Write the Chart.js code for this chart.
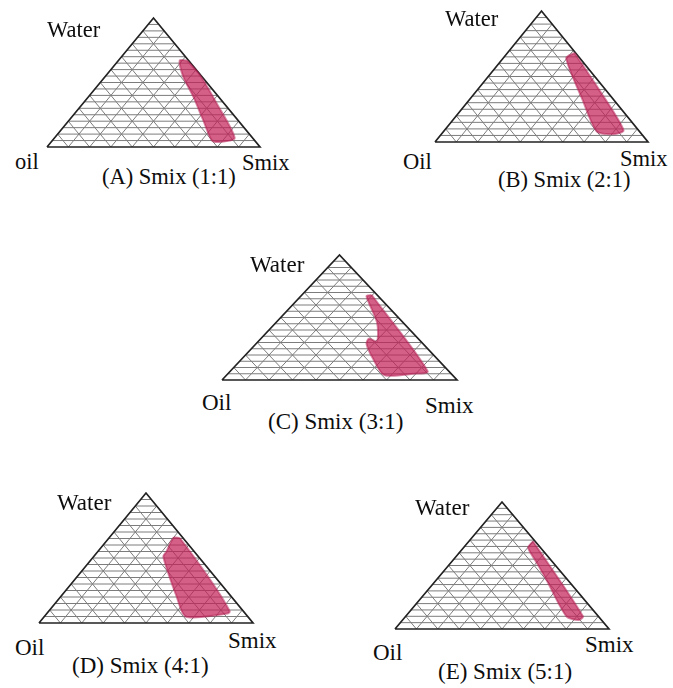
<!DOCTYPE html>
<html>
<head>
<meta charset="utf-8">
<script src="https://cdn.jsdelivr.net/npm/chart.js@4"></script>
<style>
  body { margin: 0; background: #fff; width: 673px; height: 688px; position: relative; overflow: hidden;
         font-family: "Liberation Serif", "Times New Roman", serif; color: #0d0d0d; }
  canvas { position: absolute; }
  .lbl { position: absolute; white-space: nowrap; line-height: 1; }
</style>
</head>
<body>
<script>
// labels
const captions = ['(A) Smix (1:1)', '(B) Smix (2:1)', '(C) Smix (3:1)', '(D) Smix (4:1)', '(E) Smix (5:1)'];
const topLabels = ['Water', 'Water', 'Water', 'Water', 'Water'];
const leftLabels = ['oil', 'Oil', 'Oil', 'Oil', 'Oil'];
const rightLabels = ['Smix', 'Smix', 'Smix', 'Smix', 'Smix'];
const gridDivisions = 10;

// microemulsion region outlines, [water %, oil %] (Smix = rest)
const regionA = [[67, 0.7], [56, 0.3], [34, 3.4], [7, 8.4], [4, 15.9], [5, 20], [21, 16.2], [39, 11.8], [54.5, 8.8], [67, 4.2]];
const regionB = [[68, 0.5], [40, 3], [9, 7], [6, 13], [8, 20], [33, 14.4], [64, 6.4]];
const regionC = [[68, 2.3], [7, 9], [5, 16], [4, 29], [18, 27], [29, 24], [33, 21], [31, 18.5], [46, 11], [67, 5]];
const regionD = [[66, 4], [65, 1.5], [9, 6.4], [6, 14], [5, 29], [20, 25.6], [51, 16.4], [55, 12.9], [62, 7.5]];
const regionE = [[69, 1], [10, 7.2], [7, 10.8], [10, 14.9], [39, 9.8], [54, 7.4], [64, 5.8]];
const regions = [regionA, regionB, regionC, regionD, regionE];

// where each diagram sits on the page
const panels = [
  { left: 47,  top: 18,  w: 213, h: 129, font: 22.5, water: [47, 38],   oil: [15, 170],  smix: [242, 171], cap: [102, 185] },
  { left: 435, top: 11,  w: 213, h: 131, font: 22.5, water: [445, 27],  oil: [403, 170], smix: [620, 167], cap: [498, 188] },
  { left: 222, top: 255, w: 235, h: 125, font: 23, water: [250, 272], oil: [202, 410], smix: [425, 413], cap: [268, 429] },
  { left: 39,  top: 493, w: 214, h: 130, font: 23, water: [57, 510],  oil: [15, 655],  smix: [228, 648], cap: [72, 673] },
  { left: 395, top: 502, w: 214, h: 127, font: 23, water: [415, 515], oil: [373, 660], smix: [585, 652], cap: [438, 679] }
];

function toXY(water, oil) {
  const smix = 100 - water - oil;
  return { x: (smix + water / 2) / 100, y: water / 100 };
}

function gridLines() {
  const pts = [];
  const n = gridDivisions;
  for (let i = 1; i < n; i++) {
    const f = i / n * 100;
    pts.push(toXY(0, f), toXY(100 - f, f), { x: null, y: null });
    pts.push(toXY(0, 100 - f), toXY(100 - f, 0), { x: null, y: null });
  }
  // horizontals every half step
  for (let k = 1; k < 2 * n; k++) {
    const w = k / (2 * n) * 100;
    pts.push(toXY(w, 0), toXY(w, 100 - w), { x: null, y: null });
  }
  return pts;
}

function addLabel(text, pos, size) {
  const s = document.createElement('span');
  s.className = 'lbl';
  s.textContent = text;
  s.style.fontSize = size + 'px';
  s.style.left = pos[0] + 'px';
  s.style.top = (pos[1] - 0.8375 * size) + 'px';
  document.body.appendChild(s);
}

const pad = 3;
panels.forEach((p, idx) => {
  const c = document.createElement('canvas');
  c.width = p.w + 2 * pad;
  c.height = p.h + 2 * pad;
  c.style.left = (p.left - pad) + 'px';
  c.style.top = (p.top - pad) + 'px';
  document.body.appendChild(c);

  const region = regions[idx].map(r => toXY(r[0], r[1]));
  region.push(region[0]);

  new Chart(c.getContext('2d'), {
    type: 'scatter',
    data: {
      datasets: [
        {
          data: region,
          showLine: true,
          fill: 'shape',
          backgroundColor: 'rgba(195, 35, 90, 0.72)',
          borderColor: 'rgba(180, 35, 85, 0.55)',
          borderWidth: 2,
          pointRadius: 0,
          tension: 0.25,
          clip: false
        },
        {
          data: [toXY(0, 100), toXY(0, 0), toXY(100, 0), toXY(0, 100)],
          showLine: true,
          borderColor: '#222',
          borderWidth: 1.7,
          pointRadius: 0,
          clip: false
        },
        {
          data: gridLines(),
          showLine: true,
          spanGaps: false,
          borderColor: '#7c7c7c',
          borderWidth: 1,
          pointRadius: 0,
          clip: false
        }
      ]
    },
    options: {
      responsive: false,
      animation: false,
      events: [],
      layout: { padding: pad },
      scales: {
        x: { type: 'linear', min: 0, max: 1, display: false },
        y: { type: 'linear', min: 0, max: 1, display: false }
      },
      plugins: { legend: { display: false }, tooltip: { enabled: false } }
    }
  });

  addLabel(topLabels[idx], p.water, p.font);
  addLabel(leftLabels[idx], p.oil, p.font);
  addLabel(rightLabels[idx], p.smix, p.font);
  addLabel(captions[idx], p.cap, p.font);
});
</script>
</body>
</html>
